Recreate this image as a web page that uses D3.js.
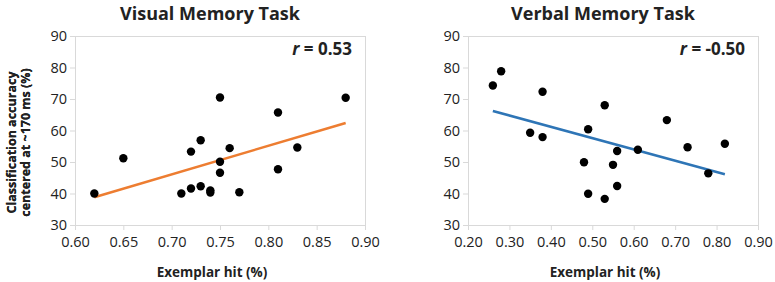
<!DOCTYPE html>
<html>
<head>
<meta charset="utf-8">
<script src="https://cdnjs.cloudflare.com/ajax/libs/d3/7.8.5/d3.min.js"></script>
<style>
  body { margin: 0; background: #fff; }
  text { font-family: "Open Sans", "Liberation Sans", sans-serif; fill: #222; }
</style>
</head>
<body>
<div id="chart"></div>
<script>
// visual memory task
var visualHit = [0.62, 0.65, 0.71, 0.72, 0.72, 0.73, 0.73, 0.74, 0.74, 0.75, 0.75, 0.75, 0.76, 0.77, 0.81, 0.81, 0.83, 0.88];
var visualAcc = [40.0, 51.2, 40.0, 41.6, 53.3, 42.3, 56.9, 41.0, 40.3, 70.5, 50.1, 46.6, 54.4, 40.4, 65.7, 47.7, 54.6, 70.4];
var visualTrend = [[0.62, 38.8], [0.88, 62.4]];

// verbal memory task
var verbalHit = [0.26, 0.28, 0.35, 0.38, 0.38, 0.48, 0.49, 0.49, 0.53, 0.53, 0.55, 0.56, 0.56, 0.61, 0.68, 0.73, 0.78, 0.82];
var verbalAcc = [74.3, 78.8, 59.3, 72.3, 57.9, 49.9, 60.4, 39.9, 68.0, 38.3, 49.1, 53.5, 42.4, 53.9, 63.3, 54.7, 46.4, 55.8];
var verbalTrend = [[0.26, 66.2], [0.82, 46.1]];

var yTicks = [30, 40, 50, 60, 70, 80, 90];
var visualXTicks = [0.60, 0.65, 0.70, 0.75, 0.80, 0.85, 0.90];
var verbalXTicks = [0.20, 0.30, 0.40, 0.50, 0.60, 0.70, 0.80, 0.90];

var svg = d3.select("#chart").append("svg")
  .attr("width", 775)
  .attr("height", 282);

function panel(opts) {
  var m = opts.margin;
  var w = 290, h = 189;
  var g = svg.append("g").attr("transform", "translate(" + m.left + "," + m.top + ")");

  var x = d3.scaleLinear().domain(opts.xDomain).range([0, w]);
  var y = d3.scaleLinear().domain([30, 90]).range([h, 0]);

  // plot frame
  g.append("rect")
    .attr("x", 0.5).attr("y", 0.5)
    .attr("width", w).attr("height", h)
    .attr("fill", "none")
    .attr("stroke", "#d9d9d9");

  var xAxis = g.append("g")
    .attr("transform", "translate(0," + h + ")")
    .call(d3.axisBottom(x).tickValues(opts.xTicks).tickFormat(d3.format(".2f")).tickSize(5).tickPadding(7));
  var yAxis = g.append("g")
    .call(d3.axisLeft(y).tickValues(yTicks).tickSize(5).tickPadding(3));

  [xAxis, yAxis].forEach(function(a) {
    a.select(".domain").attr("stroke", "#d9d9d9");
    a.selectAll(".tick line").attr("stroke", "#d9d9d9");
    a.selectAll(".tick text")
      .style("font-family", "'Open Sans', sans-serif")
      .style("font-size", "14.5px")
      .attr("fill", "#333");
  });

  // trend line
  g.append("path")
    .datum(opts.trend)
    .attr("fill", "none")
    .attr("stroke", opts.color)
    .attr("stroke-width", 2.5)
    .attr("d", d3.line().x(function(d) { return x(d[0]); }).y(function(d) { return y(d[1]); }));

  g.selectAll("circle.pt")
    .data(d3.zip(opts.xs, opts.ys))
    .enter().append("circle")
    .attr("class", "pt")
    .attr("cx", function(d) { return x(d[0]); })
    .attr("cy", function(d) { return y(d[1]); })
    .attr("r", 4.2)
    .attr("fill", "#000");

  // title
  g.append("text")
    .attr("x", w / 2 - 10)
    .attr("y", -16)
    .attr("text-anchor", "middle")
    .style("font-size", "18px")
    .style("font-weight", "bold")
    .text(opts.title);

  // r value
  var rt = g.append("text")
    .attr("x", w - 13)
    .attr("y", 19)
    .attr("text-anchor", "end")
    .style("font-size", "17px")
    .style("font-weight", "bold");
  rt.append("tspan").style("font-style", "italic").text("r");
  rt.append("tspan").text(" = " + opts.r);

  // axis titles
  g.append("text")
    .attr("x", w / 2 - 8)
    .attr("y", h + 52)
    .attr("text-anchor", "middle")
    .style("font-size", "13.5px")
    .style("font-weight", "bold")
    .text("Exemplar hit (%)");

  var yt = g.append("text")
    .attr("transform", "translate(" + (-m.left + 16) + "," + (h / 2 + 12) + ") rotate(-90)")
    .attr("text-anchor", "middle")
    .style("font-size", "12.5px")
    .style("font-weight", "bold");
  yt.append("tspan").attr("x", 0).attr("dy", 0).text("Classification accuracy");
  yt.append("tspan").attr("x", 0).attr("dy", 14).text("centered at ~170 ms (%)");
}

panel({
  margin: {left: 75, top: 36},
  xDomain: [0.60, 0.90], xTicks: visualXTicks,
  xs: visualHit, ys: visualAcc, trend: visualTrend,
  color: "#ed7d31", title: "Visual Memory Task", r: "0.53"
});

panel({
  margin: {left: 468, top: 36},
  xDomain: [0.20, 0.90], xTicks: verbalXTicks,
  xs: verbalHit, ys: verbalAcc, trend: verbalTrend,
  color: "#2e75b6", title: "Verbal Memory Task", r: "-0.50"
});
</script>
</body>
</html>
